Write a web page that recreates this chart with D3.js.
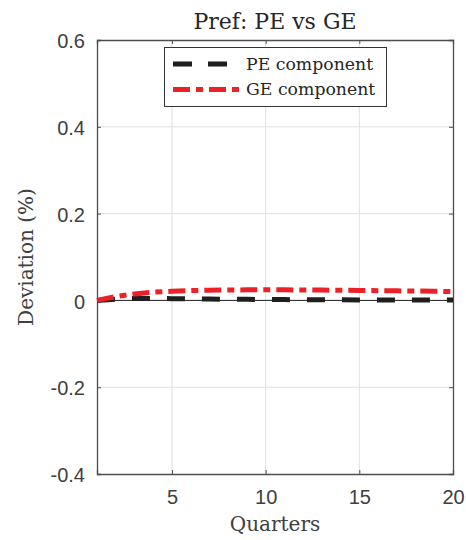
<!DOCTYPE html>
<html>
<head>
<meta charset="utf-8">
<script src="https://cdn.jsdelivr.net/npm/d3@7"></script>
<style>
  html, body { margin: 0; padding: 0; background: #fff; }
  svg { display: block; }
</style>
</head>
<body>
<svg id="chart" width="466" height="540"></svg>
<script>
// Impulse responses (percent deviation) by quarter
const quarters = d3.range(1, 21);
const peComponent = [0, 0.003, 0.0045, 0.0045, 0.004, 0.0035, 0.003, 0.0027, 0.0024, 0.002,
                     0.0018, 0.0016, 0.0014, 0.0013, 0.0012, 0.0011, 0.001, 0.0009, 0.0008, 0.0008];
const geComponent = [0, 0.009, 0.015, 0.019, 0.021, 0.0225, 0.0235, 0.024, 0.0243, 0.0244,
                     0.0243, 0.0241, 0.0238, 0.0234, 0.023, 0.0225, 0.022, 0.0215, 0.021, 0.0205];
const xTicks = [5, 10, 15, 20];
const yTicks = [-0.4, -0.2, 0, 0.2, 0.4, 0.6];
const seriesNames = ["PE component", "GE component"];

const svg = d3.select("#chart");
const plotL = 97, plotR = 453, plotT = 40, plotB = 474;

const x = d3.scaleLinear().domain([1, 20]).range([plotL, plotR]);
const y = d3.scaleLinear().domain([-0.4, 0.6]).range([plotB, plotT]);

const serif = "'DejaVu Serif', 'Liberation Serif', serif";
const sans = "'Liberation Sans', Arial, sans-serif";
const axisColor = "#4d4d4d";

// grid
const grid = svg.append("g");
grid.selectAll("line.gx").data(xTicks.filter(t => t < 20)).join("line")
  .attr("x1", d => x(d)).attr("x2", d => x(d))
  .attr("y1", plotT).attr("y2", plotB)
  .attr("stroke", "#e0e0e0").attr("stroke-width", 1);
grid.selectAll("line.gy").data(yTicks.filter(t => t > -0.4 && t < 0.6)).join("line")
  .attr("x1", plotL).attr("x2", plotR)
  .attr("y1", d => y(d)).attr("y2", d => y(d))
  .attr("stroke", "#e0e0e0").attr("stroke-width", 1);

// zero reference line
svg.append("line")
  .attr("x1", plotL).attr("x2", plotR)
  .attr("y1", y(0)).attr("y2", y(0))
  .attr("stroke", "#222").attr("stroke-width", 1);

// axes (ticks inward, boxed)
const tickLen = 4;
const axB = svg.append("g").attr("transform", `translate(0,${plotB})`)
  .call(d3.axisBottom(x).tickValues(xTicks).tickSize(-tickLen).tickPadding(16).tickFormat(d3.format("d")));
const axT = svg.append("g").attr("transform", `translate(0,${plotT})`)
  .call(d3.axisTop(x).tickValues(xTicks).tickSize(-tickLen).tickFormat(""));
const axL = svg.append("g").attr("transform", `translate(${plotL},0)`)
  .call(d3.axisLeft(y).tickValues(yTicks).tickSize(-tickLen).tickPadding(12)
    .tickFormat(d => d === 0 ? "0" : d.toFixed(1)));
const axR = svg.append("g").attr("transform", `translate(${plotR},0)`)
  .call(d3.axisRight(y).tickValues(yTicks).tickSize(-tickLen).tickFormat(""));

[axB, axT, axL, axR].forEach(a => {
  a.select(".domain").attr("stroke", axisColor).attr("stroke-width", 1.3);
  a.selectAll(".tick line").attr("stroke", axisColor).attr("stroke-width", 1);
  a.selectAll("text").attr("font-family", sans).attr("font-size", 20).attr("fill", "#404040");
});
axL.selectAll("text").attr("dy", "0.38em");

// series
const lineGen = vals => d3.line()
  .x((d, i) => x(quarters[i]))
  .y(d => y(d))(vals);

const peDash = "18,17";
const geDash = "17,6,7,6";

svg.append("path")
  .attr("d", lineGen(peComponent))
  .attr("fill", "none").attr("stroke", "#1f1f1f").attr("stroke-width", 5)
  .attr("stroke-dasharray", peDash);

svg.append("path")
  .attr("d", lineGen(geComponent))
  .attr("fill", "none").attr("stroke", "#ec2027").attr("stroke-width", 5)
  .attr("stroke-dasharray", geDash);

// legend
const lg = svg.append("g");
lg.append("rect").attr("x", 164.5).attr("y", 47.5).attr("width", 222).attr("height", 59)
  .attr("fill", "#fff").attr("stroke", "#333").attr("stroke-width", 1);
const legendStyles = [
  { color: "#1f1f1f", dash: "19,16", x2: 227 },
  { color: "#ec2027", dash: geDash, x2: 239 }
];
seriesNames.forEach((name, i) => {
  const ly = 64 + i * 25.5;
  lg.append("line").attr("x1", 173).attr("x2", legendStyles[i].x2).attr("y1", ly).attr("y2", ly)
    .attr("stroke", legendStyles[i].color).attr("stroke-width", 5)
    .attr("stroke-dasharray", legendStyles[i].dash);
  lg.append("text").attr("x", 246).attr("y", ly + 5.5).text(name)
    .attr("font-family", serif).attr("font-size", 17.3).attr("fill", "#262626");
});

// title and axis labels
svg.append("text").attr("x", (plotL + plotR) / 2).attr("y", 29).attr("text-anchor", "middle")
  .attr("font-family", serif).attr("font-size", 22).attr("fill", "#262626")
  .text("Pref: PE vs GE");
svg.append("text").attr("x", (plotL + plotR) / 2).attr("y", 531).attr("text-anchor", "middle")
  .attr("font-family", serif).attr("font-size", 20).attr("fill", "#404040")
  .text("Quarters");
svg.append("text").attr("transform", `translate(33,${(plotT + plotB) / 2}) rotate(-90)`)
  .attr("text-anchor", "middle")
  .attr("font-family", serif).attr("font-size", 20).attr("fill", "#404040")
  .text("Deviation (%)");
</script>
</body>
</html>
